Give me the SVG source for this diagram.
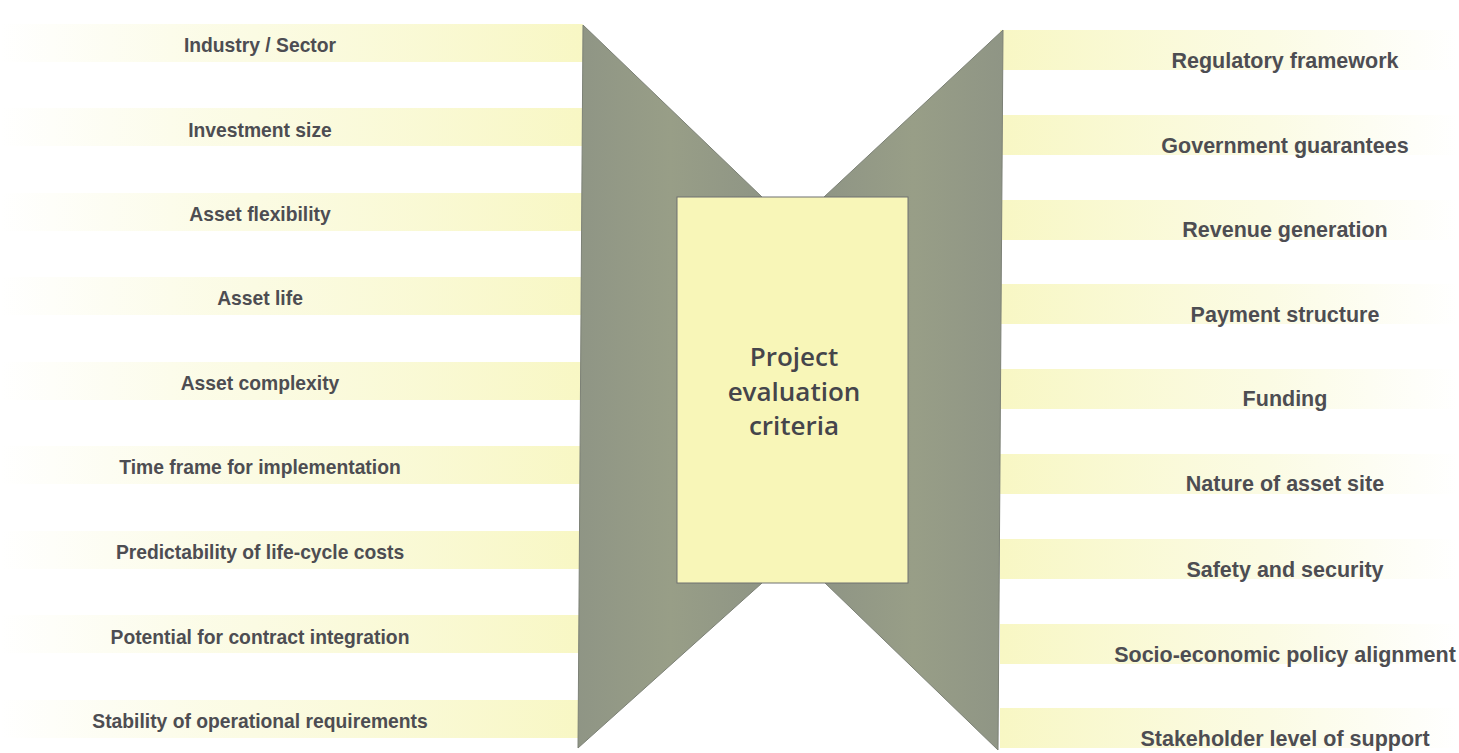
<svg xmlns="http://www.w3.org/2000/svg" width="1459" height="753" viewBox="0 0 1459 753">
<defs>
<linearGradient id="bandL" x1="0" y1="0" x2="1" y2="0">
<stop offset="0" stop-color="#f7f7d0" stop-opacity="0"/>
<stop offset="0.35" stop-color="#f8f8cf" stop-opacity="0.5"/>
<stop offset="1" stop-color="#f8f7c4" stop-opacity="1"/>
</linearGradient>
<linearGradient id="bandR" x1="0" y1="0" x2="1" y2="0">
<stop offset="0" stop-color="#f8f7c4" stop-opacity="1"/>
<stop offset="0.6" stop-color="#f8f8cf" stop-opacity="0.55"/>
<stop offset="1" stop-color="#f7f7d0" stop-opacity="0"/>
</linearGradient>
<linearGradient id="grey" x1="0" y1="0" x2="1" y2="0">
<stop offset="0" stop-color="#8f9585"/>
<stop offset="0.5" stop-color="#989e87"/>
<stop offset="1" stop-color="#8f9585"/>
</linearGradient>
<style>
.lbl{font-family:"Liberation Sans",Arial,sans-serif;font-weight:bold;fill:#4d4d52;text-anchor:middle}
.l{font-size:19.3px}
.r{font-size:21.5px}
.ctr{font-family:"Open Sans","DejaVu Sans",sans-serif;font-weight:600;font-size:26px;fill:#45454b;text-anchor:middle}
.shape{fill:url(#grey);stroke:#7c8176;stroke-width:1}
</style>
</defs>
<rect width="1459" height="753" fill="#ffffff"/>
<g id="bands-left">
<rect x="0" y="24" width="583" height="38" fill="url(#bandL)"/>
<rect x="0" y="108" width="583" height="38" fill="url(#bandL)"/>
<rect x="0" y="193" width="583" height="38" fill="url(#bandL)"/>
<rect x="0" y="277" width="583" height="38" fill="url(#bandL)"/>
<rect x="0" y="362" width="583" height="38" fill="url(#bandL)"/>
<rect x="0" y="446" width="583" height="38" fill="url(#bandL)"/>
<rect x="0" y="531" width="583" height="38" fill="url(#bandL)"/>
<rect x="0" y="615" width="583" height="38" fill="url(#bandL)"/>
<rect x="0" y="700" width="583" height="38" fill="url(#bandL)"/>
</g>
<g id="bands-right">
<rect x="1000" y="30" width="459" height="40" fill="url(#bandR)"/>
<rect x="1000" y="115" width="459" height="40" fill="url(#bandR)"/>
<rect x="1000" y="200" width="459" height="40" fill="url(#bandR)"/>
<rect x="1000" y="284" width="459" height="40" fill="url(#bandR)"/>
<rect x="1000" y="369" width="459" height="40" fill="url(#bandR)"/>
<rect x="1000" y="454" width="459" height="40" fill="url(#bandR)"/>
<rect x="1000" y="539" width="459" height="40" fill="url(#bandR)"/>
<rect x="1000" y="624" width="459" height="40" fill="url(#bandR)"/>
<rect x="1000" y="708" width="459" height="40" fill="url(#bandR)"/>
</g>
<g id="left-shape"><polygon class="shape" points="583,25 762,197 762,583 578,748"/></g>
<g id="right-shape"><polygon class="shape" points="1003,30 824,197 824,582 998,750"/></g>
<g id="center">
<rect x="677" y="197" width="231" height="386" fill="#f8f6b8" stroke="#6f7070" stroke-width="1"/>
<text class="ctr" x="794" y="366">Project</text>
<text class="ctr" x="794" y="401">evaluation</text>
<text class="ctr" x="794" y="435">criteria</text>
</g>
<g id="left-labels">
<text class="lbl l" x="260" y="52">Industry / Sector</text>
<text class="lbl l" x="260" y="137">Investment size</text>
<text class="lbl l" x="260" y="221">Asset flexibility</text>
<text class="lbl l" x="260" y="305">Asset life</text>
<text class="lbl l" x="260" y="390">Asset complexity</text>
<text class="lbl l" x="260" y="474">Time frame for implementation</text>
<text class="lbl l" x="260" y="559">Predictability of life-cycle costs</text>
<text class="lbl l" x="260" y="644">Potential for contract integration</text>
<text class="lbl l" x="260" y="728">Stability of operational requirements</text>
</g>
<g id="right-labels">
<text class="lbl r" x="1285" y="68">Regulatory framework</text>
<text class="lbl r" x="1285" y="153">Government guarantees</text>
<text class="lbl r" x="1285" y="237">Revenue generation</text>
<text class="lbl r" x="1285" y="322">Payment structure</text>
<text class="lbl r" x="1285" y="406">Funding</text>
<text class="lbl r" x="1285" y="491">Nature of asset site</text>
<text class="lbl r" x="1285" y="577">Safety and security</text>
<text class="lbl r" x="1285" y="662">Socio-economic policy alignment</text>
<text class="lbl r" x="1285" y="746">Stakeholder level of support</text>
</g>
</svg>
